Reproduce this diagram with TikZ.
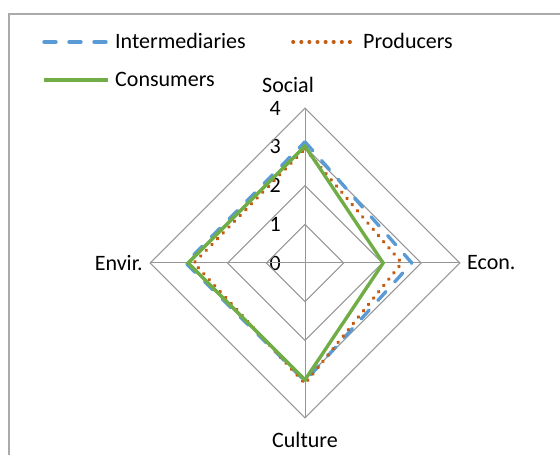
\documentclass[tikz,border=0pt]{standalone}
\usepackage{fontspec}
\setmainfont{Carlito}
\definecolor{interblue}{RGB}{91,155,213}
\definecolor{prodorange}{RGB}{197,90,17}
\definecolor{consgreen}{RGB}{112,173,71}
\definecolor{gridgray}{RGB}{150,150,150}
\definecolor{framegray}{RGB}{170,170,170}

\begin{document}
\begin{tikzpicture}[x=1pt,y=1pt,
    lbl/.style={inner sep=0pt,font=\fontsize{22}{25}\selectfont},
    gridline/.style={draw=gridgray,line width=1pt},
    interline/.style={draw=interblue,line width=3.4pt,dash pattern=on 12pt off 13pt,line cap=round,line join=round},
    prodline/.style={draw=prodorange,line width=3.6pt,dash pattern=on 0.4pt off 7.7pt,line cap=round},
    consline/.style={draw=consgreen,line width=3.4pt}]
  \useasboundingbox (0,0) rectangle (560,455);
  \clip (0,0) rectangle (560,455);
  \draw[framegray,line width=1.5pt] (9,441) rectangle (600,-50);

  % legend
  \coordinate (li1) at (44,413); \coordinate (li2) at (108,413);
  \coordinate (lp1) at (293,413); \coordinate (lp2) at (357,413);
  \coordinate (lc1) at (44,375); \coordinate (lc2) at (108,375);
  \draw[interline] (li1) -- (li2);
  \draw[prodline] (lp1) -- (lp2);
  \draw[consline] (lc1) -- (lc2);
  \node[lbl,anchor=base west] (tinter) at (115,406) {Intermediaries};
  \node[lbl,anchor=base west] (tprod) at (363,406) {Producers};
  \node[lbl,anchor=base west] (tcons) at (115,368) {Consumers};

  % axis titles and values
  \node[lbl,anchor=base west] (social) at (262,362) {Social};
  \node[lbl,anchor=west] (econ) at (467,192) {Econ.};
  \node[lbl,anchor=east] (envir) at (143,192) {Envir.};
  \node[lbl] (culture) at (305,15) {Culture};
  \foreach \v in {0,...,4}
    \node[lbl,anchor=east] (v\v) at (281,{192+38.7*\v}) {\v};

  \begin{scope}[shift={(305pt,192pt)},x=38.7pt,y=38.7pt]
    \coordinate (O) at (0,0);
    \foreach \r in {1,...,4}
      \draw[gridline] (0:\r) -- (90:\r) -- (180:\r) -- (270:\r) -- cycle;
    \foreach \a in {0,90,180,270}
      \draw[gridline] (O) -- (\a:4);
    % series
    \draw[interline] (90:3.13) -- (0:2.76) -- (270:3.05) -- (180:3.08) -- cycle;
    \draw[prodline] (90:2.95) -- (0:2.5) -- (270:3.12) -- (180:2.87) -- cycle;
    \draw[consline] (90:3.02) -- (0:2.02) -- (270:3.02) -- (180:3.02) -- cycle;
  \end{scope}
\end{tikzpicture}
\end{document}
